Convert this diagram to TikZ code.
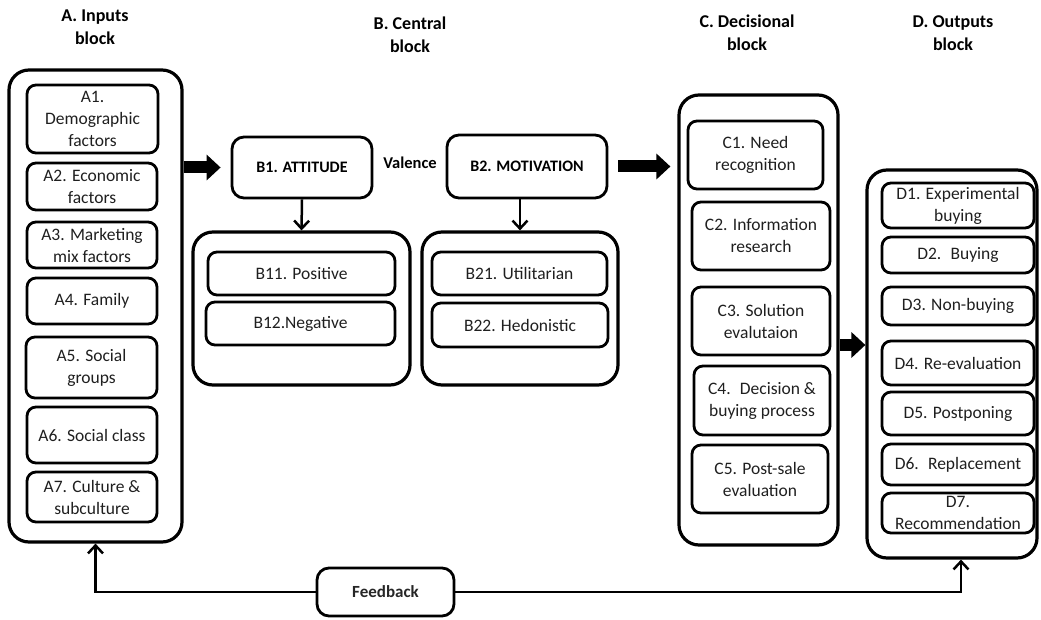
\documentclass[tikz,border=0pt]{standalone}
\usepackage{fontspec}
\setmainfont{Carlito}
\usetikzlibrary{arrows.meta}
\newcommand\bx[7]{\node[#6, minimum width={(#4-#2)*1pt}, minimum height={(#5-#3)*1pt}] (#1) at ({(#2+#4)/2},{(#3+#5)/2}) {#7};}
\tikzset{
  outer/.style={draw, line width=3.2pt, rounded corners=20pt, inner sep=0pt},
  item/.style={draw, line width=2.8pt, rounded corners=9pt, align=center, inner sep=0pt,
    font=\fontsize{17.5}{22}\selectfont, text=black!88},
  bitem/.style={item, font=\bfseries\fontsize{16}{20}\selectfont, text=black, rounded corners=12pt},
  fbox/.style={item, font=\bfseries\fontsize{17}{22}\selectfont, text=black!85, rounded corners=12pt},
  hdr/.style={align=center, font=\bfseries\fontsize{18}{23}\selectfont},
  big/.style={line width=12pt, -{Triangle[length=14pt,width=25pt]}},
  small/.style={line width=2.5pt, -{Straight Barb[length=8pt,width=15pt,line width=2.5pt]}}
}
\begin{document}
\begin{tikzpicture}[x=1pt,y=-1pt]
\useasboundingbox (0,0) rectangle (1041,620);
% headers
\node[hdr] (hA) at (95,27) {A. Inputs\\block};
\node[hdr] (hB) at (410,35) {B. Central\\block};
\node[hdr] (hC) at (747,33) {C. Decisional\\block};
\node[hdr] (hD) at (953,33) {D. Outputs\\block};
% A block
\bx{Aout}{9}{70}{182}{542}{outer}{}
\bx{A1}{27}{85}{158}{153}{item}{A1.\\Demographic\\factors}
\bx{A2}{27}{163}{157}{210}{item}{A2. Economic\\factors}
\bx{A3}{27}{222}{157}{268}{item}{A3. Marketing\\mix factors}
\bx{A4}{27}{278}{157}{324}{item}{A4. Family}
\bx{A5}{26}{337}{157}{398}{item}{A5. Social\\groups}
\bx{A6}{27}{407}{157}{463}{item}{A6. Social class}
\bx{A7}{27}{472}{157}{522}{item}{A7. Culture \&\\subculture}
% B block
\bx{B1}{232}{137}{372}{198}{bitem}{B1. ATTITUDE}
\node[font=\bfseries\fontsize{16.5}{20}\selectfont] (val) at (410,163) {Valence};
\bx{B2}{447}{135}{607}{198}{bitem}{B2. MOTIVATION}
\bx{B1g}{193}{232}{410}{385}{outer}{}
\bx{B11}{208}{252}{395}{295}{item}{B11. Positive}
\bx{B12}{206}{302}{395}{345}{item}{B12.Negative}
\bx{B2g}{422}{232}{618}{385}{outer}{}
\bx{B21}{432}{252}{607}{295}{item}{B21. Utilitarian}
\bx{B22}{432}{303}{608}{347}{item}{B22. Hedonistic}
% C block
\bx{Cout}{679}{95}{838}{545}{outer}{}
\bx{C1}{688}{121}{823}{189}{item}{C1. Need\\recognition}
\bx{C2}{692}{202}{830}{270}{item}{C2. Information\\research}
\bx{C3}{692}{287}{830}{355}{item}{C3. Solution\\evalutaion}
\bx{C4}{694}{366}{830}{435}{item}{C4.~ Decision \&\\buying process}
\bx{C5}{692}{445}{828}{513}{item}{C5. Post-sale\\evaluation}
% D block
\bx{Dout}{867}{170}{1037}{558}{outer}{}
\bx{D1}{882}{183}{1034}{228}{item}{D1. Experimental\\buying}
\bx{D2}{882}{237}{1034}{273}{item}{D2.~ Buying}
\bx{D3}{882}{287}{1034}{325}{item}{D3. Non-buying}
\bx{D4}{882}{341}{1034}{385}{item}{D4. Re-evaluation}
\bx{D5}{882}{392}{1034}{435}{item}{D5. Postponing}
\bx{D6}{882}{444}{1034}{485}{item}{D6.~ Replacement}
\bx{D7}{882}{493}{1034}{533}{item}{D7.\\Recommendation}
% Feedback
\bx{Fb}{317}{568}{454}{616}{fbox}{Feedback}
% connectors
\draw[big] (Aout.east |- B1.west) -- ([xshift=-10pt]B1.west);
\draw[big] ([xshift=10pt]B2.east) -- ([xshift=-7pt]Cout.west |- B2.east);
\draw[big] ([yshift=-25pt]Cout.east) coordinate (cd) -- (Dout.west |- cd);
\draw[small] (B1.south) -- (B1g.north);
\draw[small] (B2g.north |- B2.south) -- (B2g.north);
\draw[small] (Fb.west) -| (Aout.south);
\draw[small] (Fb.east) -| ([xshift=9pt]Dout.south);
\end{tikzpicture}
\end{document}
